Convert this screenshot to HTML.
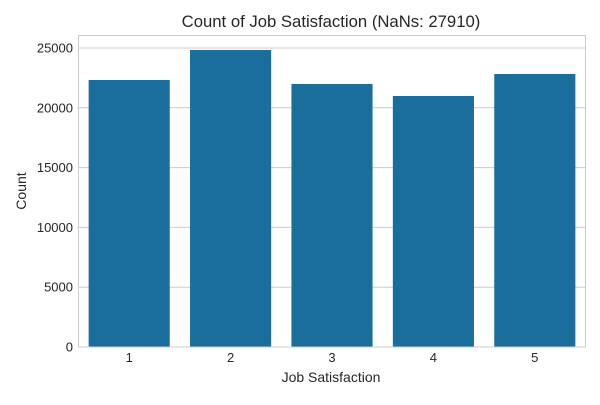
<!DOCTYPE html>
<html><head><meta charset="utf-8"><style>
body{margin:0;background:#fff;font-family:"Liberation Sans",sans-serif;}
svg text{font-family:"Liberation Sans",sans-serif;fill:#262626;}
</style></head><body>
<svg width="600" height="400">
<rect width="600" height="400" fill="#fff"/>
<g id="grid"></g>
<g id="bars"></g>
<rect x="78.5" y="35.5" width="507" height="311.5" fill="none" stroke="#cccccc" stroke-width="1"/>
<g id="ticks"></g>
<text x="331" y="27" text-anchor="middle" font-size="16.7">Count of Job Satisfaction (NaNs: 27910)</text>
<text x="331" y="382" text-anchor="middle" font-size="14">Job Satisfaction</text>
<text x="26" y="191" text-anchor="middle" font-size="14" transform="rotate(-90 26 191)">Count</text>
</svg>
<script>
const categories=["1","2","3","4","5"];
const counts=[22324,24833,21990,20987,22826];
const yTicks=[0,5000,10000,15000,20000,25000];
const ns="http://www.w3.org/2000/svg";
const x0=78.5,x1=585.5,yBase=347,yTopVal=25000,yTopPx=48;
function y(v){return yBase-(v/yTopVal)*(yBase-yTopPx);}
const band=(x1-x0)/categories.length;
function xc(i){return x0+band*(i+0.5);}
const grid=document.getElementById('grid'),bars=document.getElementById('bars'),ticks=document.getElementById('ticks');
yTicks.forEach(t=>{
 const l=document.createElementNS(ns,'line');
 l.setAttribute('x1',x0);l.setAttribute('x2',x1);l.setAttribute('y1',y(t));l.setAttribute('y2',y(t));
 l.setAttribute('stroke','#cccccc');l.setAttribute('stroke-width','1');
 
 
 grid.appendChild(l);
 const tx=document.createElementNS(ns,'text');
 tx.setAttribute('x',73);tx.setAttribute('y',y(t)+4.5);tx.setAttribute('text-anchor','end');tx.setAttribute('font-size','13');
 tx.textContent=t;
 
 
 ticks.appendChild(tx);
});
categories.forEach((c,i)=>{
 const r=document.createElementNS(ns,'rect');
 const w=band*0.8;
 r.setAttribute('x',xc(i)-w/2);r.setAttribute('width',w);
 r.setAttribute('y',y(counts[i]));r.setAttribute('height',yBase-y(counts[i]));
 r.setAttribute('fill','#1a6e9c');
 
 
 bars.appendChild(r);
 const tx=document.createElementNS(ns,'text');
 tx.setAttribute('x',xc(i));tx.setAttribute('y',362);tx.setAttribute('text-anchor','middle');tx.setAttribute('font-size','13');
 tx.textContent=c;
 
 
 ticks.appendChild(tx);
});
</script>
</body></html>
